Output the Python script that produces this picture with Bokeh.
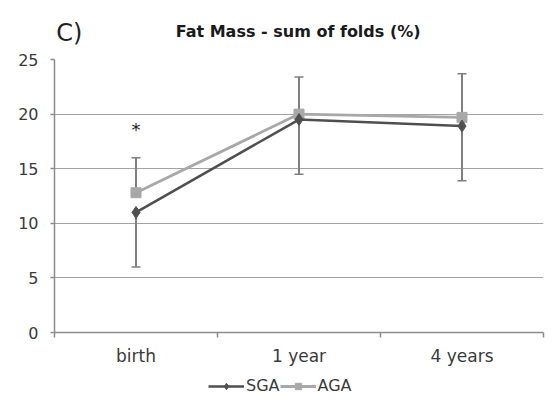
from bokeh.plotting import figure
from bokeh.models import (ColumnDataSource, Whisker, TeeHead, FixedTicker, Range1d,
                          Legend, LegendItem, Label)
from bokeh.layouts import column
from bokeh.core.properties import value
from bokeh.embed import file_html
from bokeh.resources import INLINE

categories = ["birth", "1 year", "4 years"]
sga = [11.0, 19.5, 18.9]
aga = [12.8, 20.0, 19.7]
sga_err_low = [6.0, 14.5, 13.9]
aga_err_high = [16.0, 23.4, 23.7]
y_ticks = [0, 5, 10, 15, 20, 25]
star_y = 18.6
title_text = "Fat Mass - sum of folds (%)"
panel_text = "C)"
series_names = ["SGA", "AGA"]

xs = [i + 0.5 for i in range(len(categories))]
bounds = [i for i in range(len(categories) + 1)]

FONT = "DejaVu Sans"
W = 556
SGA_C = "#4f4f4f"
AGA_C = "#a8a8a8"
ERR = "#7f7f7f"
AX = "#8c8c8c"

src = ColumnDataSource(dict(x=xs, sga=sga, aga=aga, lo=sga_err_low, hi=aga_err_high))


def bare(height, xr, yr):
    f = figure(width=W, height=height, output_backend="svg", toolbar_location=None,
               x_range=xr, y_range=yr, x_axis_location=None, y_axis_location=None,
               min_border=0)
    f.min_border_left = f.min_border_right = f.min_border_top = f.min_border_bottom = 0
    f.grid.visible = False
    f.outline_line_color = None
    f.background_fill_color = "white"
    f.border_fill_color = "white"
    return f


# ---- header: panel letter and title
TOP_H = 48
top = bare(TOP_H, Range1d(0, W), Range1d(0, TOP_H))
top.add_layout(Label(x=2, y=16, text=panel_text, text_font=FONT, text_font_size="24px",
                     text_color="#222222", text_baseline="middle", text_align="left"))
top.add_layout(Label(x=277, y=17, text=title_text, text_font=FONT, text_font_size="16px",
                     text_font_style="bold", text_color="#1a1a1a",
                     text_baseline="middle", text_align="center"))

# ---- main chart
p = figure(width=W, height=320, output_backend="svg", toolbar_location=None,
           x_range=Range1d(0, len(categories)), y_range=Range1d(0, 25),
           min_border_left=54, min_border_right=13, min_border_top=11, min_border_bottom=36)
p.background_fill_color = "white"
p.border_fill_color = "white"
p.outline_line_color = None

p.xaxis.ticker = FixedTicker(ticks=xs, minor_ticks=bounds)
p.xaxis.major_label_overrides = {x: c for x, c in zip(xs, categories)}
p.xaxis.major_tick_line_color = None
p.xaxis.major_tick_in = 0
p.xaxis.major_tick_out = 0
p.xaxis.minor_tick_line_color = AX
p.xaxis.minor_tick_line_width = 1.5
p.xaxis.minor_tick_in = 0
p.xaxis.minor_tick_out = 5
p.xaxis.axis_line_color = AX
p.xaxis.axis_line_width = 1.5
p.xaxis.major_label_text_font = FONT
p.xaxis.major_label_text_font_size = "17px"
p.xaxis.major_label_text_color = "#3a3a3a"
p.xaxis.major_label_standoff = 8

p.yaxis.ticker = FixedTicker(ticks=y_ticks)
p.yaxis.axis_line_color = AX
p.yaxis.axis_line_width = 1.5
p.yaxis.major_tick_line_color = AX
p.yaxis.major_tick_line_width = 1.5
p.yaxis.major_tick_in = 0
p.yaxis.major_tick_out = 4
p.yaxis.minor_tick_line_color = None
p.yaxis.major_label_text_font = FONT
p.yaxis.major_label_text_font_size = "16px"
p.yaxis.major_label_text_color = "#3a3a3a"
p.yaxis.major_label_standoff = 12

p.xgrid.grid_line_color = None
p.ygrid.ticker = FixedTicker(ticks=y_ticks)
p.ygrid.grid_line_color = "#a3a3a3"
p.ygrid.grid_line_width = 1.2

w1 = Whisker(source=src, base="x", lower="lo", upper="sga", dimension="height",
             line_color=ERR, line_width=2,
             lower_head=TeeHead(size=9, line_color=ERR, line_width=1.5), upper_head=None)
w2 = Whisker(source=src, base="x", lower="aga", upper="hi", dimension="height",
             line_color=ERR, line_width=2,
             upper_head=TeeHead(size=9, line_color=ERR, line_width=1.5), lower_head=None)
p.add_layout(w1)
p.add_layout(w2)


def draw(fig):
    la = fig.line("x", "aga", source=src, line_color=AGA_C, line_width=2.8)
    ma = fig.scatter("x", "aga", source=src, marker="square", size=10,
                     fill_color=AGA_C, line_color=AGA_C)
    ls = fig.line("x", "sga", source=src, line_color=SGA_C, line_width=2.5)
    ms = fig.scatter("x", "sga", source=src, marker="diamond", size=12,
                     fill_color=SGA_C, line_color=SGA_C)
    return ls, ms, la, ma


draw(p)
p.text(x=[xs[0]], y=[star_y], text=["*"], text_font=value(FONT), text_font_size="18px",
       text_align="center", text_baseline="middle", text_color="#222222")

# ---- legend strip (its own glyphs lie outside its visible range)
bot = bare(36, Range1d(0, 1), Range1d(100, 101))
ls, ms, la, ma = draw(bot)
legend = Legend(items=[LegendItem(label=series_names[0], renderers=[ls, ms]),
                       LegendItem(label=series_names[1], renderers=[la, ma])],
                orientation="horizontal", location=(154, 9),
                label_text_font=FONT, label_text_font_size="16px", label_text_color="#3a3a3a",
                glyph_width=36, glyph_height=16, label_standoff=2, spacing=0,
                padding=0, margin=0, border_line_color=None, background_fill_alpha=0)
bot.add_layout(legend)

layout = column(top, p, bot, spacing=0)
open("out.html", "w").write(file_html(layout, INLINE))
